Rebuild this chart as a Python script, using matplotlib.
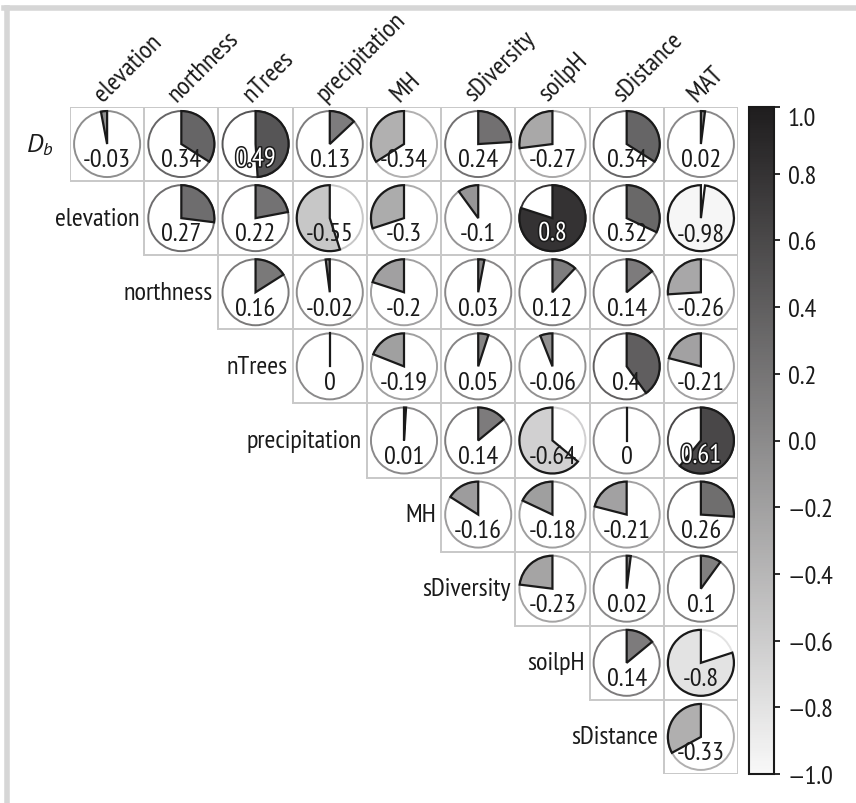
import numpy as np
import matplotlib.pyplot as plt
import matplotlib.patheffects as pe
from matplotlib.patches import Wedge, Circle, Rectangle
from matplotlib.colors import LinearSegmentedColormap, Normalize
from matplotlib.cm import ScalarMappable
from matplotlib.lines import Line2D
from matplotlib.ticker import FuncFormatter

FONT = 'PT Sans Narrow'
plt.rcParams['font.family'] = [FONT, 'DejaVu Sans']
plt.rcParams['mathtext.fontset'] = 'custom'
plt.rcParams['mathtext.it'] = 'PT Sans:italic'
plt.rcParams['mathtext.rm'] = FONT

# 변수 이름 (행: 앞 9개, 열: 뒤 9개)
row_names = ['$D_b$', 'elevation', 'northness', 'nTrees', 'precipitation',
             'MH', 'sDiversity', 'soilpH', 'sDistance']
col_names = ['elevation', 'northness', 'nTrees', 'precipitation', 'MH',
             'sDiversity', 'soilpH', 'sDistance', 'MAT']

# 상삼각 상관계수 (각 행은 대각선 다음 열부터)
r_Db = [-0.03, 0.34, 0.49, 0.13, -0.34, 0.24, -0.27, 0.34, 0.02]
r_elevation = [0.27, 0.22, -0.55, -0.3, -0.1, 0.8, 0.32, -0.98]
r_northness = [0.16, -0.02, -0.2, 0.03, 0.12, 0.14, -0.26]
r_nTrees = [0, -0.19, 0.05, -0.06, 0.4, -0.21]
r_precipitation = [0.01, 0.14, -0.64, 0, 0.61]
r_MH = [-0.16, -0.18, -0.21, 0.26]
r_sDiversity = [-0.23, 0.02, 0.1]
r_soilpH = [0.14, -0.8]
r_sDistance = [-0.33]

corr_rows = [r_Db, r_elevation, r_northness, r_nTrees, r_precipitation,
             r_MH, r_sDiversity, r_soilpH, r_sDistance]

cmap = LinearSegmentedColormap.from_list('grey_r', ['#f8f8f8', '#1f1d1e'])
norm = Normalize(-1, 1)
FS = 19
INK = '#1a1a1a'

W, H = 856, 804
fig = plt.figure(figsize=(W / 100, H / 100), dpi=100)
ax = fig.add_axes([70 / W, 29 / H, 668 / W, 667 / H])
ax.set_xlim(0, 9)
ax.set_ylim(0, 9)
ax.axis('off')

R = 0.445
n = len(corr_rows)
for i, row in enumerate(corr_rows):
    cy = n - 0.5 - i
    for k, v in enumerate(row):
        j = i + k
        cx = j + 0.5
        col = cmap(norm(v))
        ax.add_patch(Rectangle((j, cy - 0.5), 1, 1, fill=False,
                               ec='#c8c8c8', lw=1.4))
        ax.add_patch(Circle((cx, cy), R, fc='white', ec=col, lw=1.4))
        if v > 0:
            ax.add_patch(Wedge((cx, cy), R, 90 - 360 * v, 90, fc=col,
                               ec=INK, lw=1.6))
        elif v < 0:
            ax.add_patch(Wedge((cx, cy), R, 90, 90 - 360 * v, fc=col,
                               ec=INK, lw=1.6))
        else:
            ax.plot([cx, cx], [cy, cy + R], color=INK, lw=1.6)
        if v >= 0.45:
            ax.text(cx, cy - 0.30, f'{v:g}', ha='center', va='baseline',
                    fontsize=FS, color='white',
                    path_effects=[pe.withStroke(linewidth=2.2, foreground=INK)])
        else:
            ax.text(cx, cy - 0.30, f'{v:g}', ha='center', va='baseline',
                    fontsize=FS, color=INK)
    # 행 이름
    dx = 0.22 if i == 0 else 0.07
    ax.text(i - dx, cy, row_names[i], ha='right', va='center', fontsize=FS,
            color=INK)

# 열 이름 (45도 회전)
for j, name in enumerate(col_names):
    ax.text(j + 0.44, n + 0.07, name, rotation=45, rotation_mode='anchor',
            ha='left', va='baseline', fontsize=FS, color=INK)

# 컬러바
cax = fig.add_axes([749 / W, 29 / H, 25 / W, 667 / H])
ticks = np.round(np.linspace(-1, 1, 11), 1)
cb = fig.colorbar(ScalarMappable(norm=norm, cmap=cmap), cax=cax, ticks=ticks)
cb.outline.set_edgecolor(INK)
cb.outline.set_linewidth(1.5)
cax.yaxis.set_major_formatter(FuncFormatter(lambda v, _: f'{v:.1f}'.replace('-', '\u2014')))
cax.tick_params(length=4, width=1.3, pad=6, labelsize=FS, colors=INK)
top_tick = cax.yaxis.get_major_ticks()[-1]
top_tick.label1.set_verticalalignment('top')
top_tick.label2.set_verticalalignment('top')

# 바깥 테두리 (위, 왼쪽)
fig.add_artist(Line2D([4 / W, 1], [1 - 8.5 / H] * 2, color='#d6d6d6', lw=4,
                      transform=fig.transFigure))
fig.add_artist(Line2D([6.5 / W] * 2, [0, 1 - 8.5 / H], color='#d6d6d6', lw=4,
                      transform=fig.transFigure))

fig.savefig('out.png', dpi=100)
